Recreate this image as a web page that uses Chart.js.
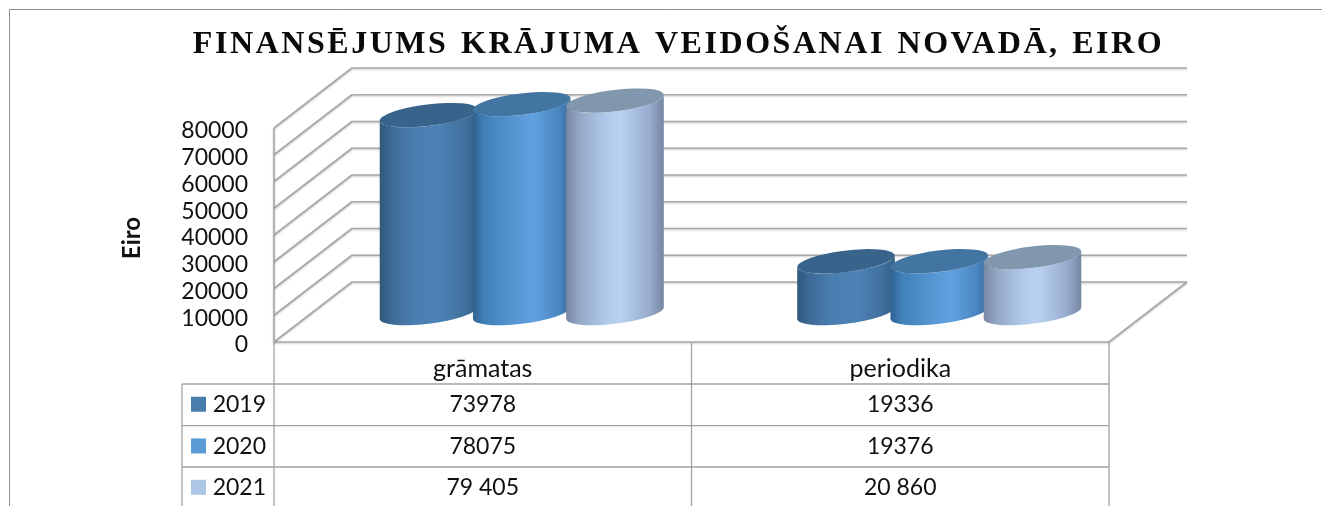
<!DOCTYPE html>
<html><head><meta charset="utf-8">
<style>html,body{margin:0;padding:0;background:#fff}canvas{display:block;filter:blur(.45px)}</style>
<script src="https://cdn.jsdelivr.net/npm/chart.js@4"></script>
</head><body><canvas id="c" width="1322" height="506"></canvas>
<script>
const categories = ["grāmatas", "periodika"];
const years = ["2019", "2020", "2021"];
const values2019 = [73978, 19336];
const values2020 = [78075, 19376];
const values2021 = [79405, 20860];
const tableText2019 = ["73978", "19336"];
const tableText2020 = ["78075", "19376"];
const tableText2021 = ["79 405", "20 860"];
const yTicks = [0,10000,20000,30000,40000,50000,60000,70000,80000];
const titleText = "FINANSĒJUMS KRĀJUMA VEIDOŠANAI NOVADĀ, EIRO";
const axisTitle = "Eiro";

const swatches = ["#4a7dac", "#5b9bd5", "#adc6e6"];
const bodyStops = [
  [[0,"#2f5778"],[.12,"#3c6a95"],[.35,"#4a7eb0"],[.62,"#4d82b5"],[.88,"#3f6f9c"],[1,"#335d82"]],
  [[0,"#2e6190"],[.12,"#4080b8"],[.4,"#5594d0"],[.62,"#5fa1e0"],[.88,"#4a86bf"],[1,"#36689a"]],
  [[0,"#76869f"],[.14,"#94a8c6"],[.4,"#b0c9ea"],[.55,"#bad2f2"],[.85,"#97acce"],[1,"#74859f"]]
];
const capColors = ["#38638a", "#4375a3", "#8197ae"];

const FONT = "Lato";
const DX = 39, DY = -29;          // bars sit mid-depth in the 3D box
const BACK_DX = 78, BACK_DY = -60;
const TILT = -7 * Math.PI / 180;

function cylinder(ctx, el, i) {
  const cx = el.x + DX, yT = el.y + DY, yB = el.base + DY;
  const a = el.width * .527, b = el.width * .115;
  const t0 = Math.atan2(-b * Math.sin(TILT), a * Math.cos(TILT));
  const g = ctx.createLinearGradient(cx - a, 0, cx + a, 0);
  bodyStops[i].forEach(s => g.addColorStop(s[0], s[1]));
  ctx.fillStyle = g;
  ctx.beginPath();
  ctx.ellipse(cx, yB, a, b, TILT, t0, t0 + Math.PI);
  ctx.ellipse(cx, yT, a, b, TILT, t0 + Math.PI, t0, true);
  ctx.closePath();
  ctx.fill();
  ctx.fillStyle = capColors[i];
  ctx.beginPath();
  ctx.ellipse(cx, yT, a, b, TILT, 0, Math.PI * 2);
  ctx.fill();
}

const box3d = {
  id: "box3d",
  beforeLayout(chart) {
    const tb = chart.titleBlock;
    if (tb && !tb._spaced) {
      tb._spaced = true;
      const d = tb.draw;
      tb.draw = function () {
        const c = this.ctx; c.save();
        c.letterSpacing = "2.55px"; c.wordSpacing = "2px";
        c.translate(124, 2);
        d.call(this); c.restore();
      };
    }
  },
  beforeDatasetsDraw(chart) {
    const { ctx, scales: { y, x } } = chart;
    const L = x.left, R = x.right;
    ctx.save();
    ctx.strokeStyle = "#8c8c8c"; ctx.lineWidth = 1;
    ctx.beginPath(); ctx.moveTo(9.5, 506); ctx.lineTo(9.5, 9.5); ctx.lineTo(1322, 9.5); ctx.stroke();
    ctx.strokeStyle = "#a8a8a8"; ctx.lineWidth = 1.6; ctx.lineJoin = "round";
    ctx.shadowColor = "rgba(0,0,0,.22)"; ctx.shadowBlur = 2; ctx.shadowOffsetY = 1;
    yTicks.forEach(v => {
      const p = y.getPixelForValue(v);
      ctx.beginPath();
      ctx.moveTo(L, p); ctx.lineTo(L + BACK_DX, p + BACK_DY); ctx.lineTo(R + BACK_DX, p + BACK_DY);
      ctx.stroke();
    });
    const p0 = y.getPixelForValue(0);
    ctx.beginPath();
    ctx.moveTo(L, y.getPixelForValue(80000)); ctx.lineTo(L, p0); ctx.lineTo(R, p0); ctx.lineTo(R + BACK_DX, p0 + BACK_DY);
    ctx.stroke();
    ctx.restore();
    ctx.save();
    for (let c = 0; c < categories.length; c++)
      chart.data.datasets.forEach((ds, i) => cylinder(ctx, chart.getDatasetMeta(i).data[c], i));
    ctx.restore();
    const rows = [tableText2019, tableText2020, tableText2021];
    const rowY = [384, 425.7, 467], rowH = 41.5, tLeft = 182;
    const colX = [x.left, x.getPixelForValue(0) + (x.getPixelForValue(1) - x.getPixelForValue(0)) / 2, x.right];
    ctx.save();
    ctx.strokeStyle = "#a2a2a2"; ctx.lineWidth = 1.3;
    ctx.beginPath();
    rowY.forEach(ry => { ctx.moveTo(tLeft, ry); ctx.lineTo(R, ry); });
    ctx.moveTo(tLeft, rowY[0]); ctx.lineTo(tLeft, 506);
    colX.forEach(cx => { ctx.moveTo(cx, p0); ctx.lineTo(cx, 506); });
    ctx.stroke();
    ctx.font = "23px " + FONT; ctx.textBaseline = "middle"; ctx.fillStyle = "#111";
    rows.forEach((r, i) => {
      const my = rowY[i] + rowH / 2;
      ctx.fillStyle = swatches[i];
      ctx.fillRect(tLeft + 9, my - 8, 15, 15);
      ctx.fillStyle = "#111";
      ctx.textAlign = "right";
      ctx.fillText(years[i], colX[0] - 8, my);
      ctx.textAlign = "center";
      r.forEach((t, c) => ctx.fillText(t, x.getPixelForValue(c), my));
    });
    ctx.restore();
  },
  beforeDatasetDraw() { return false; }
};

new Chart(document.getElementById("c"), {
  type: "bar",
  plugins: [box3d],
  data: {
    labels: categories,
    datasets: [
      { label: years[0], data: values2019, backgroundColor: swatches[0] },
      { label: years[1], data: values2020, backgroundColor: swatches[1] },
      { label: years[2], data: values2021, backgroundColor: swatches[2] }
    ]
  },
  options: {
    responsive: false, animation: false,
    layout: { padding: { left: 0, right: 213, top: 0, bottom: 0 } },
    datasets: { bar: { categoryPercentage: .67, barPercentage: 1 } },
    plugins: {
      legend: { display: false }, tooltip: { enabled: false },
      title: { display: true, text: titleText, color: "#0a0a0a",
        font: { family: "Liberation Serif", size: 32, weight: "bold", lineHeight: 1.2 },
        padding: { top: 24, bottom: 65.6 } }
    },
    scales: {
      x: {
        grid: { display: false }, border: { display: false },
        ticks: { font: { family: FONT, size: 25 }, color: "#111", padding: 4, maxRotation: 0 },
        afterFit(s) { s.height = 506 - 342; }
      },
      y: {
        min: 0, max: 80000,
        grid: { display: false }, border: { display: false },
        afterBuildTicks(s) { s.ticks = yTicks.map(v => ({ value: v })); },
        ticks: { font: { family: FONT, size: 23 }, color: "#111", padding: 18, labelOffset: 3,
                 autoSkip: false, callback: v => String(v) },
        title: { display: true, text: axisTitle, color: "#111",
          font: { family: FONT, size: 24, weight: "bold" }, padding: { top: 118, bottom: 0 } },
        afterFit(s) {
          s.width = 274;
          if (!s._titleShifted) {
            s._titleShifted = true;
            const dt = s.drawTitle;
            s.drawTitle = function () { const c = this.ctx; c.save(); c.translate(0, 3); dt.call(this); c.restore(); };
          }
        }
      }
    }
  }
});
</script></body></html>
